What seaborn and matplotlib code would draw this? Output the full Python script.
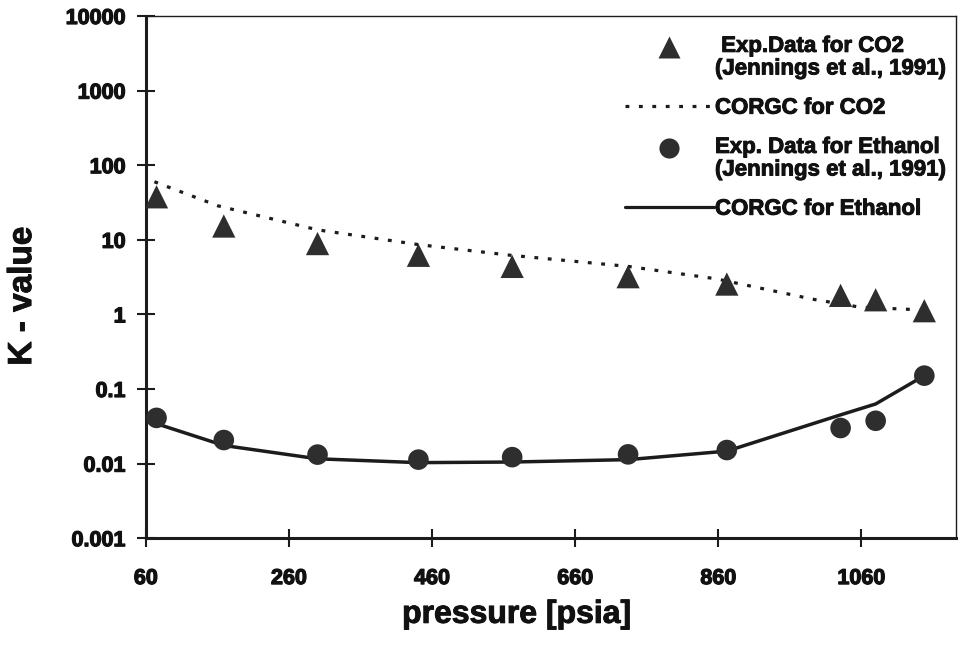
import numpy as np
import pandas as pd
import matplotlib
matplotlib.use("Agg")
import matplotlib.pyplot as plt
import matplotlib.patheffects as pe
import seaborn as sns
from matplotlib.lines import Line2D
from matplotlib.ticker import NullLocator
from matplotlib.legend_handler import HandlerLine2D

# ---------------- data ----------------
pressure_exp = [75, 169, 300, 441, 572, 734, 872, 1031, 1080, 1148]
k_co2_exp = [37.7, 15.3, 8.9, 6.2, 4.4, 3.2, 2.55, 1.8, 1.57, 1.12]
k_ethanol_exp = [0.041, 0.0207, 0.0132, 0.0113, 0.0122, 0.0133, 0.0152, 0.030, 0.0375, 0.151]

pressure_corgc_co2 = [72, 161, 300, 440, 570, 734, 857, 992, 1058, 1126, 1148]
k_corgc_co2 = [60, 28.5, 13.6, 8.65, 6.2, 4.4, 3.0, 1.6, 1.25, 1.17, 1.12]

pressure_corgc_ethanol = [62, 169, 300, 441, 572, 734, 872, 1030, 1080, 1148]
k_corgc_ethanol = [0.0376, 0.0175, 0.0116, 0.0103, 0.0105, 0.0113, 0.0147, 0.0447, 0.063, 0.151]

x_ticks = [60, 260, 460, 660, 860, 1060]
x_tick_labels = ["60", "260", "460", "660", "860", "1060"]
y_ticks = [0.001, 0.01, 0.1, 1, 10, 100, 1000, 10000]
y_tick_labels = ["0.001", "0.01", "0.1", "1", "10", "100", "1000", "10000"]

legend_labels = [
    " Exp.Data for CO2\n(Jennings et al., 1991)",
    "CORGC for CO2",
    "Exp. Data for Ethanol\n(Jennings et al., 1991)",
    "CORGC for Ethanol",
]

# ---------------- style ----------------
sns.set_theme(style="ticks")
plt.rcParams["font.family"] = ["Liberation Sans", "DejaVu Sans"]

MARK = "#2e2e2e"
LINE = "#1c1c1c"
TXT = "#111111"
DOT = (0, (1.2, 3.0))
HEAVY = [pe.withStroke(linewidth=0.9, foreground=TXT)]

fig = plt.figure(figsize=(9.58, 6.49), dpi=100)
ax = fig.add_axes([145.8 / 958, (649 - 538.2) / 649, 810 / 958, 522.2 / 649])

df_exp = pd.DataFrame({"p": pressure_exp, "co2": k_co2_exp, "eth": k_ethanol_exp})
df_co2 = pd.DataFrame({"p": pressure_corgc_co2, "k": k_corgc_co2})
df_eth = pd.DataFrame({"p": pressure_corgc_ethanol, "k": k_corgc_ethanol})

sns.lineplot(data=df_co2, x="p", y="k", ax=ax, color=LINE, lw=2.3,
             linestyle=DOT, estimator=None, sort=False, zorder=2)
sns.lineplot(data=df_eth, x="p", y="k", ax=ax, color=LINE, lw=2.5,
             estimator=None, sort=False, zorder=2)
sns.scatterplot(data=df_exp, x="p", y="co2", ax=ax, marker="^", s=280,
                color=MARK, edgecolor="none", linewidth=0, zorder=3)
sns.scatterplot(data=df_exp, x="p", y="eth", ax=ax, marker="o", s=220,
                color=MARK, edgecolor="none", linewidth=0, zorder=3)

ax.set_yscale("log")
ax.set_xlim(60, 1192)
ax.set_ylim(1e-3, 1e4)
ax.set_xticks(x_ticks, labels=x_tick_labels)
ax.set_yticks(y_ticks, labels=y_tick_labels)
ax.xaxis.set_minor_locator(NullLocator())
ax.yaxis.set_minor_locator(NullLocator())

for lbl in ax.get_xticklabels() + ax.get_yticklabels():
    lbl.set_fontweight("bold")
    lbl.set_fontsize(15.5)
    lbl.set_color(TXT)
    lbl.set_path_effects(HEAVY)

ax.tick_params(axis="both", which="major", direction="inout", length=13,
               width=1.5, color=LINE)
ax.tick_params(axis="x", pad=15)
ax.tick_params(axis="y", pad=8)

for side in ["left", "bottom"]:
    ax.spines[side].set_linewidth(2.2)
    ax.spines[side].set_color(LINE)
for side in ["top", "right"]:
    ax.spines[side].set_linewidth(1.0)
    ax.spines[side].set_color(LINE)
    ax.spines[side].set_visible(True)

ax.set_xlabel("pressure [psia]", fontsize=23, fontweight="bold", color=TXT)
ax.set_ylabel("K - value", fontsize=24, fontweight="bold", color=TXT)
ax.xaxis.set_label_coords(0.458, -0.118)
ax.yaxis.set_label_coords(-0.133, 0.464)
ax.xaxis.label.set_path_effects([pe.withStroke(linewidth=0.7, foreground=TXT)])
ax.yaxis.label.set_path_effects([pe.withStroke(linewidth=0.7, foreground=TXT)])


class UpHandler(HandlerLine2D):
    def __init__(self, shift, **kw):
        super().__init__(**kw)
        self.shift = shift

    def create_artists(self, legend, orig_handle, xdescent, ydescent, width,
                       height, fontsize, trans):
        arts = super().create_artists(legend, orig_handle, xdescent, ydescent,
                                      width, height, fontsize, trans)
        for a in arts:
            a.set_ydata(np.asarray(a.get_ydata(), dtype=float) + self.shift * fontsize)
        return arts


h1 = Line2D([], [], ls="none", marker="^", ms=16.5, color=MARK, mec="none")
h2 = Line2D([], [], ls=DOT, lw=2.3, color=LINE)
h3 = Line2D([], [], ls="none", marker="o", ms=14.5, color=MARK, mec="none")
h4 = Line2D([], [], ls="-", lw=2.3, color=LINE)

leg = ax.legend(handles=[h1, h2, h3, h4], labels=legend_labels,
                loc="upper left", bbox_to_anchor=(0.5916, 0.962),
                frameon=False, prop={"weight": "bold", "size": 16},
                handlelength=4.0, handletextpad=0.05, borderpad=0,
                borderaxespad=0, labelspacing=0.82,
                handler_map={h1: UpHandler(0.5), h3: UpHandler(0.5)})
for t in leg.get_texts():
    t.set_linespacing(1.1)
    t.set_color(TXT)
    t.set_path_effects([pe.withStroke(linewidth=0.7, foreground=TXT)])

fig.savefig("out.png", dpi=100, facecolor="white")
